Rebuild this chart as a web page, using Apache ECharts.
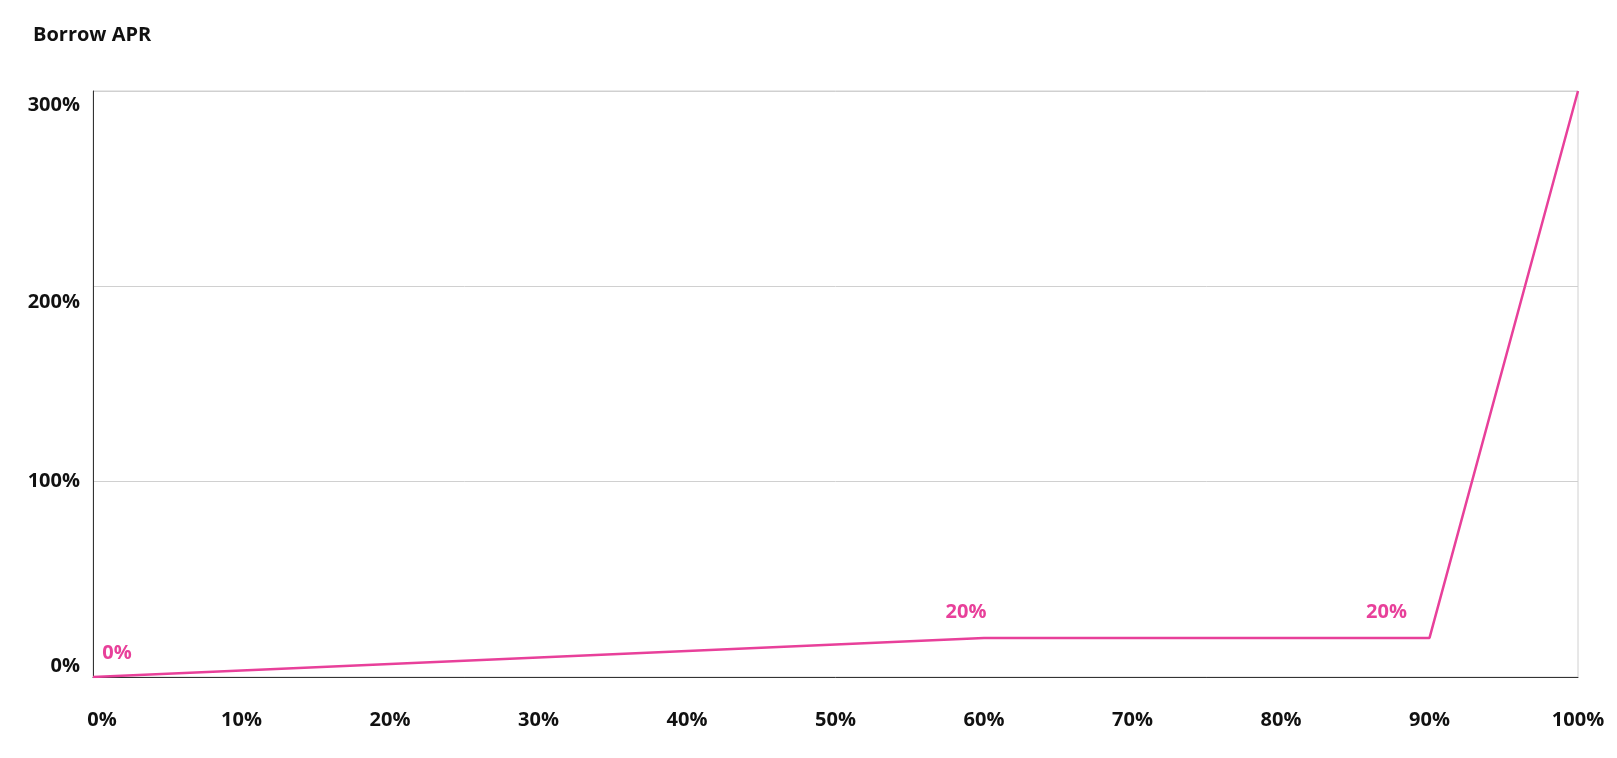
<!DOCTYPE html>
<html><head><meta charset="utf-8">
<script src="https://cdn.jsdelivr.net/npm/echarts@6/dist/echarts.min.js"></script>
<style>html,body{margin:0;padding:0;background:#fff}#c{width:1617px;height:758px}</style>
</head><body><div id="c"></div>
<script>
const utilization = [0, 60, 90, 100];
const borrowApr = [0, 20, 20, 300];
const pointLabels = ['0%', '20%', '20%', ''];
const xTicks = [0, 10, 20, 30, 40, 50, 60, 70, 80, 90, 100];
const yTicks = [0, 100, 200, 300];

const FONT = 'Open Sans';
const labelOffsets = [[24, -4], [-18, -6], [-43, -6], [0, 0]];
const yLabelShift = {0: -11, 100: 0, 200: 16, 300: 14};

const rich = {};
yTicks.forEach(v => {
  const s = yLabelShift[v];
  rich['y' + v] = {
    fontFamily: FONT, fontWeight: 'bold', fontSize: 20, color: '#111',
    padding: s >= 0 ? [2 * s, 0, 0, 0] : [0, 0, -2 * s, 0]
  };
});
const xRich = {
  first: {fontFamily: FONT, fontWeight: 'bold', fontSize: 20, color: '#111', padding: [0, 0, 0, 18]},
  n: {fontFamily: FONT, fontWeight: 'bold', fontSize: 20, color: '#111'}
};

const chart = echarts.init(document.getElementById('c'));
chart.setOption({
  animation: false,
  title: {
    text: 'Borrow APR', left: 28, top: 20,
    textStyle: {fontFamily: FONT, fontWeight: 'bold', fontSize: 20, color: '#111'}
  },
  grid: {left: 93, right: 39, top: 91, bottom: 81, show: true, borderColor: '#d0d0d0', borderWidth: 1},
  xAxis: {
    type: 'value', min: 0, max: 100, interval: 10,
    axisLine: {show: true, lineStyle: {color: '#333', width: 1}},
    axisTick: {show: false},
    splitLine: {show: false},
    axisLabel: {
      margin: 33,
      formatter: v => (v === xTicks[0] ? '{first|' : '{n|') + v + '%}',
      rich: xRich
    }
  },
  yAxis: {
    type: 'value', min: 0, max: 300, interval: 100,
    axisLine: {show: true, lineStyle: {color: '#333', width: 1}},
    axisTick: {show: false},
    splitLine: {show: true, lineStyle: {color: '#d0d0d0', width: 1}},
    axisLabel: {
      margin: 13, formatter: v => '{y' + v + '|' + v + '%}', rich: rich
    }
  },
  series: [{
    type: 'line',
    data: utilization.map((x, i) => ({
      value: [x, borrowApr[i]],
      label: {show: pointLabels[i] !== '', formatter: pointLabels[i], offset: labelOffsets[i]}
    })),
    showSymbol: true,
    symbol: 'circle',
    symbolSize: 0.01,
    lineStyle: {color: '#e8409a', width: 2.5},
    itemStyle: {color: '#e8409a'},
    label: {
      show: true, position: 'top', distance: 10,
      color: '#e8409a', fontFamily: FONT, fontWeight: 'bold', fontSize: 20
    }
  }]
});
</script></body></html>
